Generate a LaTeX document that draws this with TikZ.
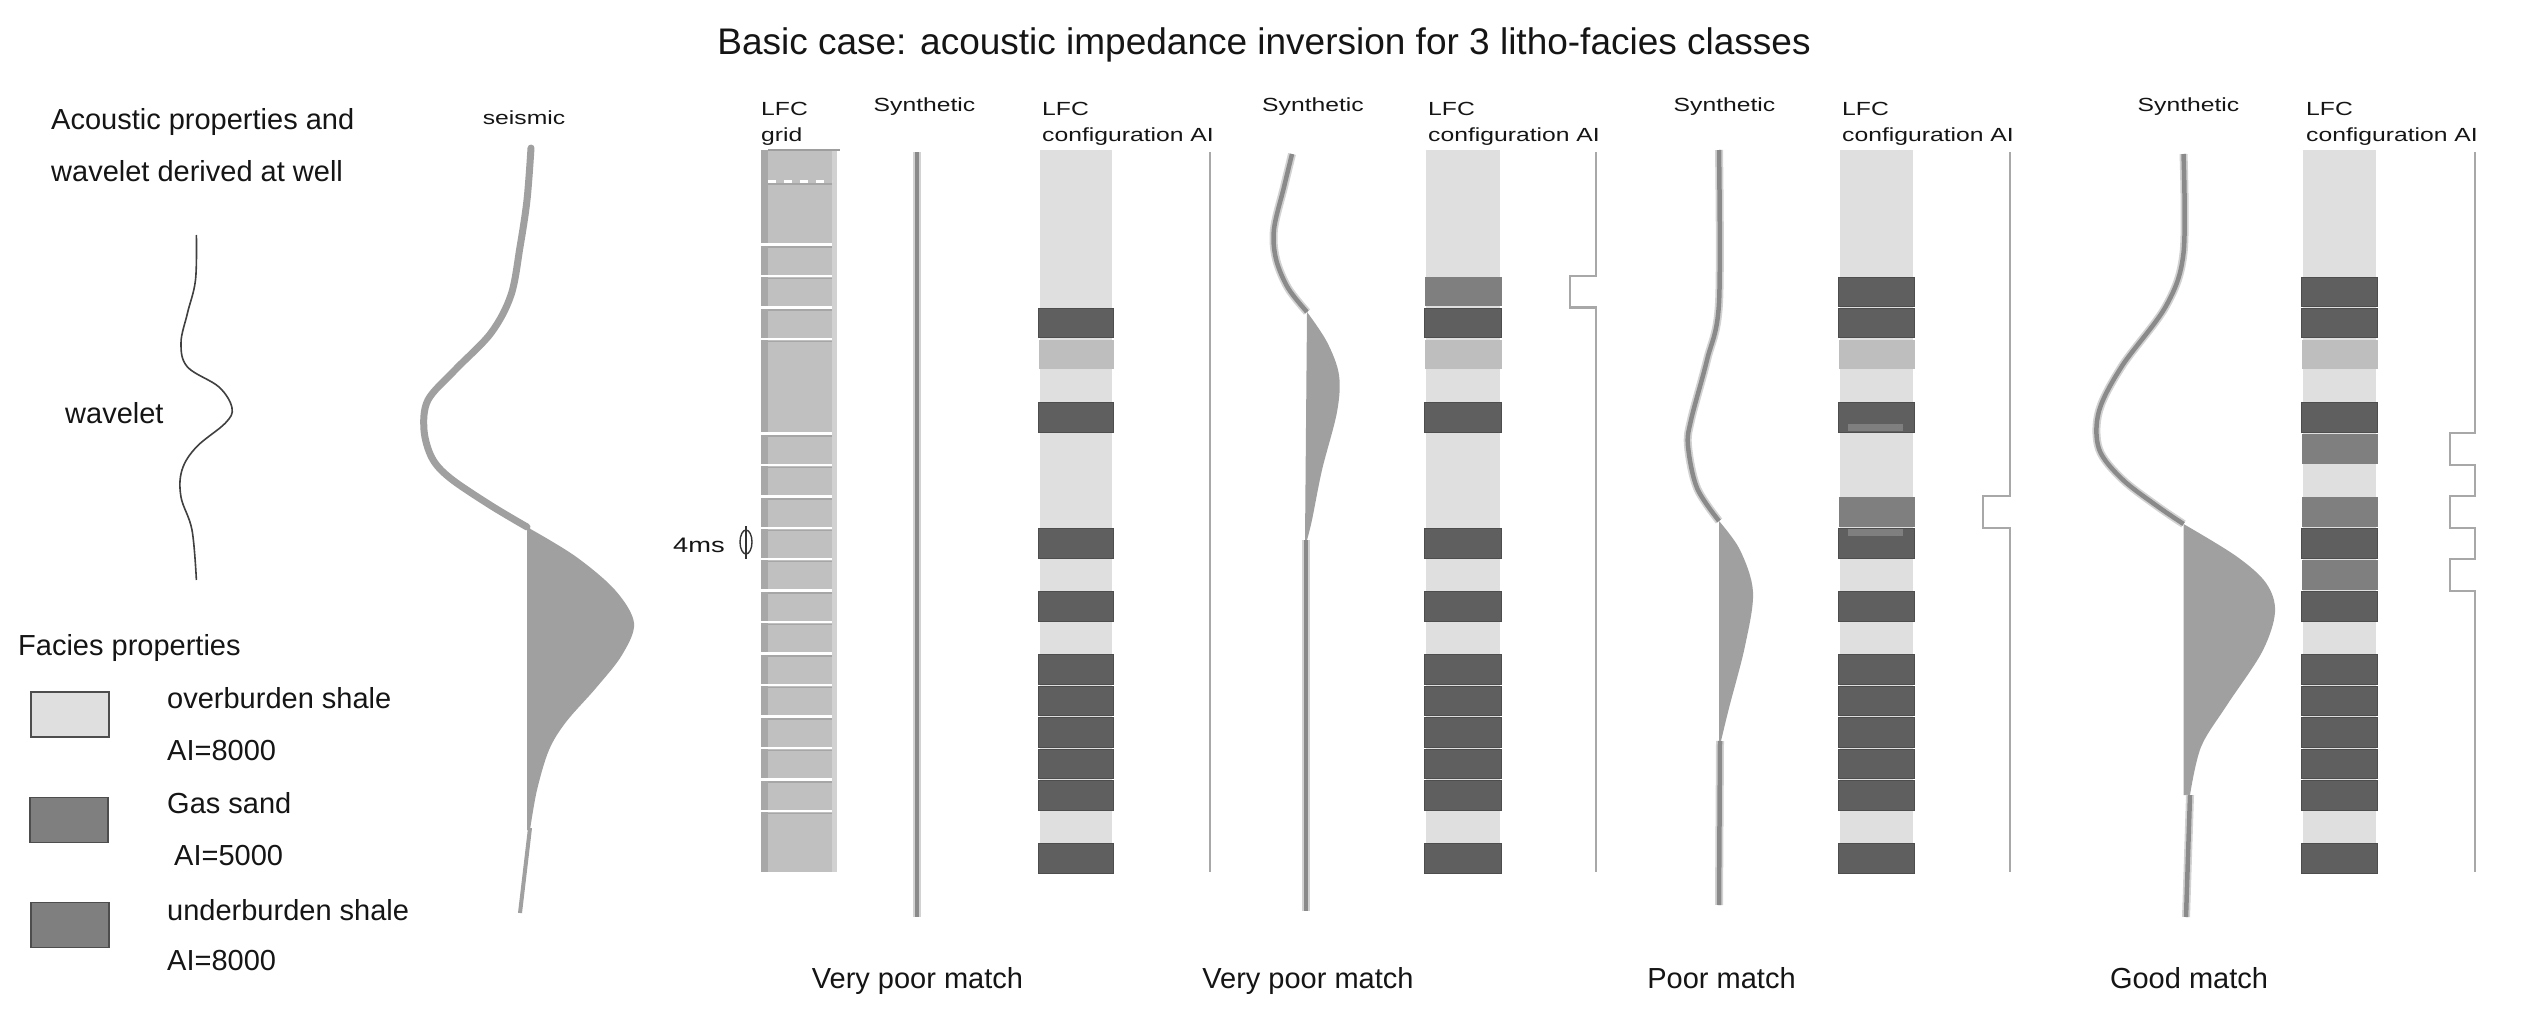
\documentclass[tikz,border=0pt]{standalone}
\usepackage{fontspec}
\setmainfont{Liberation Sans}
\newfontfamily\stretchf[FakeStretch=1.3]{Liberation Sans}
\definecolor{lightc}{HTML}{DFDFDF}
\definecolor{darkc}{HTML}{5F5F5F}
\definecolor{middark}{HTML}{7F7F7F}
\definecolor{medc}{HTML}{BEBEBE}
\definecolor{gridc}{HTML}{C0C0C0}
\definecolor{edgec}{HTML}{4D4D4D}
\definecolor{seisc}{HTML}{A0A0A0}
\definecolor{sync}{HTML}{8A8A8A}
\definecolor{synhalo}{HTML}{D2D2D2}
\definecolor{logc}{HTML}{A8A8A8}
\definecolor{txtc}{HTML}{151515}
\tikzset{
  biglbl/.style={font=\fontsize{29}{33}\selectfont, text=txtc, inner sep=0pt, anchor=base west},
  botlbl/.style={font=\fontsize{29}{33}\selectfont, text=txtc, inner sep=0pt, anchor=base},
  smlbl/.style={font=\stretchf\fontsize{19}{22}\selectfont, text=txtc, inner sep=0pt, anchor=base west},
  smclbl/.style={font=\stretchf\fontsize{19}{22}\selectfont, text=txtc, inner sep=0pt, anchor=base},
  fdark/.style={fill=darkc, draw=edgec, line width=0.8pt},
  fmid/.style={fill=middark},
  fmed/.style={fill=medc},
  seisline/.style={draw=seisc, line width=7pt, line cap=round},
  synunder/.style={draw=synhalo, line width=8pt},
  synline/.style={draw=sync, line width=4.5pt},
  lobefill/.style={fill=seisc},
  ailine/.style={draw=logc, line width=2.5pt},
  legbox/.style={draw=edgec, line width=1.5pt, minimum width=78pt, minimum height=45pt, inner sep=0pt},
}
\newcommand\lfccol[3]{%
  \fill[lightc] (#1,150) rectangle (#2,874);
  \foreach \k/\c in {#3}{%
    \pgfmathsetmacro\ya{150+31.48*\k+1}%
    \pgfmathsetmacro\yb{150+31.48*(\k+1)-1}%
    \path[\c] ({#1-1.5},\ya) rectangle ({#2+1.5},\yb);%
  }}
\begin{document}
\begin{tikzpicture}[x=1pt,y=-1pt]
\useasboundingbox[fill=white] (0,0) rectangle (2538,1014);

% title
\node[font=\fontsize{37}{42}\selectfont, text=txtc, inner sep=0pt] (title) at (1264,45)
  {Basic case: acoustic impedance inversion for 3 litho-facies classes};

% left texts
\node[biglbl] (ac1) at (51,130) {Acoustic properties and};
\node[biglbl] (ac2) at (51,182) {wavelet derived at well};
\node[biglbl] (wav) at (65,423) {wavelet};
\node[smclbl] (seis) at (524,125) {seismic};

% wavelet
\draw[draw=black!75, line width=1.6pt] plot[smooth, tension=0.6] coordinates {
  (196.4,235) (195.5,280) (187.5,313) (181,343) (187.5,367) (219,387) (232,408)
  (225.4,423) (196.4,447) (182,470) (181,497) (192,530) (196.4,580)};

% seismic
\fill[lobefill] (527,527) plot[smooth, tension=0.55] coordinates {
  (527,527) (575,556) (615,590) (634,623) (622,655) (596,688) (566,722) (549,750) (537,790) (530,830)}
  -- (527,830) -- cycle;
\draw[seisline] plot[smooth, tension=0.55] coordinates {
  (531,148) (527,200) (520,247) (511,295) (491,333) (455,370) (428,400) (424,430)
  (432,458) (450,478) (490,505) (527,527)};
\draw[draw=seisc, line width=4pt] (530,828) -- (520,913);

% legend
\node[biglbl] (fac) at (18,655) {Facies properties};
\node[legbox, fill=lightc] (box1) at (70,714.5) {};
\node[legbox, fill=middark] (box2) at (69,820) {};
\node[legbox, fill=middark] (box3) at (70,925) {};
\node[biglbl] (l1a) at (167,708) {overburden shale};
\node[biglbl] (l1b) at (167,760) {AI=8000};
\node[biglbl] (l2a) at (167,813) {Gas sand};
\node[biglbl] (l2b) at (174,865) {AI=5000};
\node[biglbl] (l3a) at (167,920) {underburden shale};
\node[biglbl] (l3b) at (167,970) {AI=8000};

% LFC grid
\fill[gridc] (761,150) rectangle (837,872);
\fill[black!34] (761,150) rectangle (768,872);
\fill[black!18] (832,150) rectangle (837,872);
\draw[draw=black!38, line width=1.5pt] (768,150) -- (840,150);
\foreach \k in {3,4,5,6,9,10,11,12,13,14,15,16,17,18,19,20,21}{
  \pgfmathsetmacro\gy{150+31.48*\k}
  \draw[draw=black!35, line width=1.5pt] (768,\gy+2.5) -- (832,\gy+2.5);
  \draw[white, line width=2.5pt] (761,\gy) -- (832,\gy);
}
\pgfmathsetmacro\gy{150+31.48}
\draw[draw=black!35, line width=1.5pt] (768,\gy+2.5) -- (832,\gy+2.5);
\draw[white, line width=2.5pt, dash pattern=on 8pt off 8pt] (768,\gy) -- (832,\gy);
\node[smlbl] (g1) at (761,116) {LFC};
\node[smlbl] (g2) at (761,142) {grid};
\node[smlbl, font=\stretchf\fontsize{21}{24}\selectfont] (ms) at (673,552) {4ms};
\draw[line width=1.4pt, draw=black!80] (746,542) ellipse [x radius=6, y radius=12];
\draw[line width=1.4pt, draw=black!80] (746,526) -- (746,559);

% column labels
\foreach \sx/\nm in {924.5/s1, 1313/s2, 1724.5/s3, 2188.5/s4}{
  \node[smclbl] (\nm) at (\sx,112) {Synthetic};
}
\foreach \cx/\nm in {1042/c1, 1428/c2, 1842/c3, 2306/c4}{
  \node[smlbl] (\nm a) at (\cx,116) {LFC};
  \node[smlbl] (\nm b) at (\cx,142) {configuration AI};
}

% synthetic 1
\draw[synunder] (917,152) -- (917,917);
\draw[synline] (917,152) -- (917,917);

% config 1
\lfccol{1040}{1112}{5/fdark,6/fmed,8/fdark,12/fdark,14/fdark,16/fdark,17/fdark,18/fdark,19/fdark,20/fdark,22/fdark}
\draw[ailine] (1210,152) -- (1210,872);

% synthetic 2
\fill[lobefill] (1305,312) plot[smooth, tension=0.55] coordinates {
  (1307,312) (1327,342) (1339,375) (1337,412) (1322,470) (1312,520) (1307,540)} -- (1305,540) -- cycle;
\draw[synunder] plot[smooth, tension=0.55] coordinates {(1292,154) (1284,187) (1274,229) (1276,259) (1288,288) (1307,312)};
\draw[synline] plot[smooth, tension=0.55] coordinates {(1292,154) (1284,187) (1274,229) (1276,259) (1288,288) (1307,312)};
\draw[synunder] (1306,540) -- (1306,911);
\draw[synline] (1306,540) -- (1306,911);

% config 2
\lfccol{1426}{1500}{4/fmid,5/fdark,6/fmed,8/fdark,12/fdark,14/fdark,16/fdark,17/fdark,18/fdark,19/fdark,20/fdark,22/fdark}
\draw[ailine] (1596,152) -- (1596,276) -- (1570,276) -- (1570,307.5) -- (1596,307.5) -- (1596,872);

% synthetic 3
\fill[lobefill] (1719,521) plot[smooth, tension=0.55] coordinates {
  (1719,521) (1740,550) (1753,592) (1745,646) (1729,708) (1721,741)} -- (1719,741) -- cycle;
\draw[synunder] plot[smooth, tension=0.55] coordinates {(1719,150) (1719,303) (1707,360) (1691,420) (1688,446) (1697,488) (1719,521)};
\draw[synline] plot[smooth, tension=0.55] coordinates {(1719,150) (1719,303) (1707,360) (1691,420) (1688,446) (1697,488) (1719,521)};
\draw[synunder] (1720,741) -- (1719,905);
\draw[synline] (1720,741) -- (1719,905);

% config 3
\lfccol{1840}{1913}{4/fdark,5/fdark,6/fmed,8/fdark,11/fmid,12/fdark,14/fdark,16/fdark,17/fdark,18/fdark,19/fdark,20/fdark,22/fdark}
\fill[middark] (1848,424) rectangle (1903,431);
\fill[middark] (1848,529) rectangle (1903,536);
\draw[ailine] (2010,152) -- (2010,496) -- (1983,496) -- (1983,528) -- (2010,528) -- (2010,872);

% synthetic 4
\fill[lobefill] (2183.5,524) plot[smooth, tension=0.55] coordinates {
  (2183.5,524) (2236,556) (2266,583) (2275,612) (2262,652) (2227,705) (2201,747) (2190,795)} -- (2183.5,795) -- cycle;
\draw[synunder] plot[smooth, tension=0.55] coordinates {(2183.5,154) (2183.5,253) (2166,306) (2122,366) (2099,411) (2099,449) (2122,479) (2157,506) (2183.5,524)};
\draw[synline] plot[smooth, tension=0.55] coordinates {(2183.5,154) (2183.5,253) (2166,306) (2122,366) (2099,411) (2099,449) (2122,479) (2157,506) (2183.5,524)};
\draw[synunder] (2190,795) -- (2186,917);
\draw[synline] (2190,795) -- (2186,917);

% config 4
\lfccol{2303}{2376}{4/fdark,5/fdark,6/fmed,8/fdark,9/fmid,11/fmid,12/fdark,13/fmid,14/fdark,16/fdark,17/fdark,18/fdark,19/fdark,20/fdark,22/fdark}
\draw[ailine] (2475,152) -- (2475,433) -- (2450,433) -- (2450,465) -- (2475,465) -- (2475,496)
  -- (2450,496) -- (2450,528) -- (2475,528) -- (2475,559) -- (2450,559) -- (2450,591) -- (2475,591) -- (2475,872);

% bottom labels
\node[botlbl] (m1) at (917.5,988) {Very poor match};
\node[botlbl] (m2) at (1308,988) {Very poor match};
\node[botlbl] (m3) at (1721.5,988) {Poor match};
\node[botlbl] (m4) at (2189,988) {Good match};
\end{tikzpicture}
\end{document}
